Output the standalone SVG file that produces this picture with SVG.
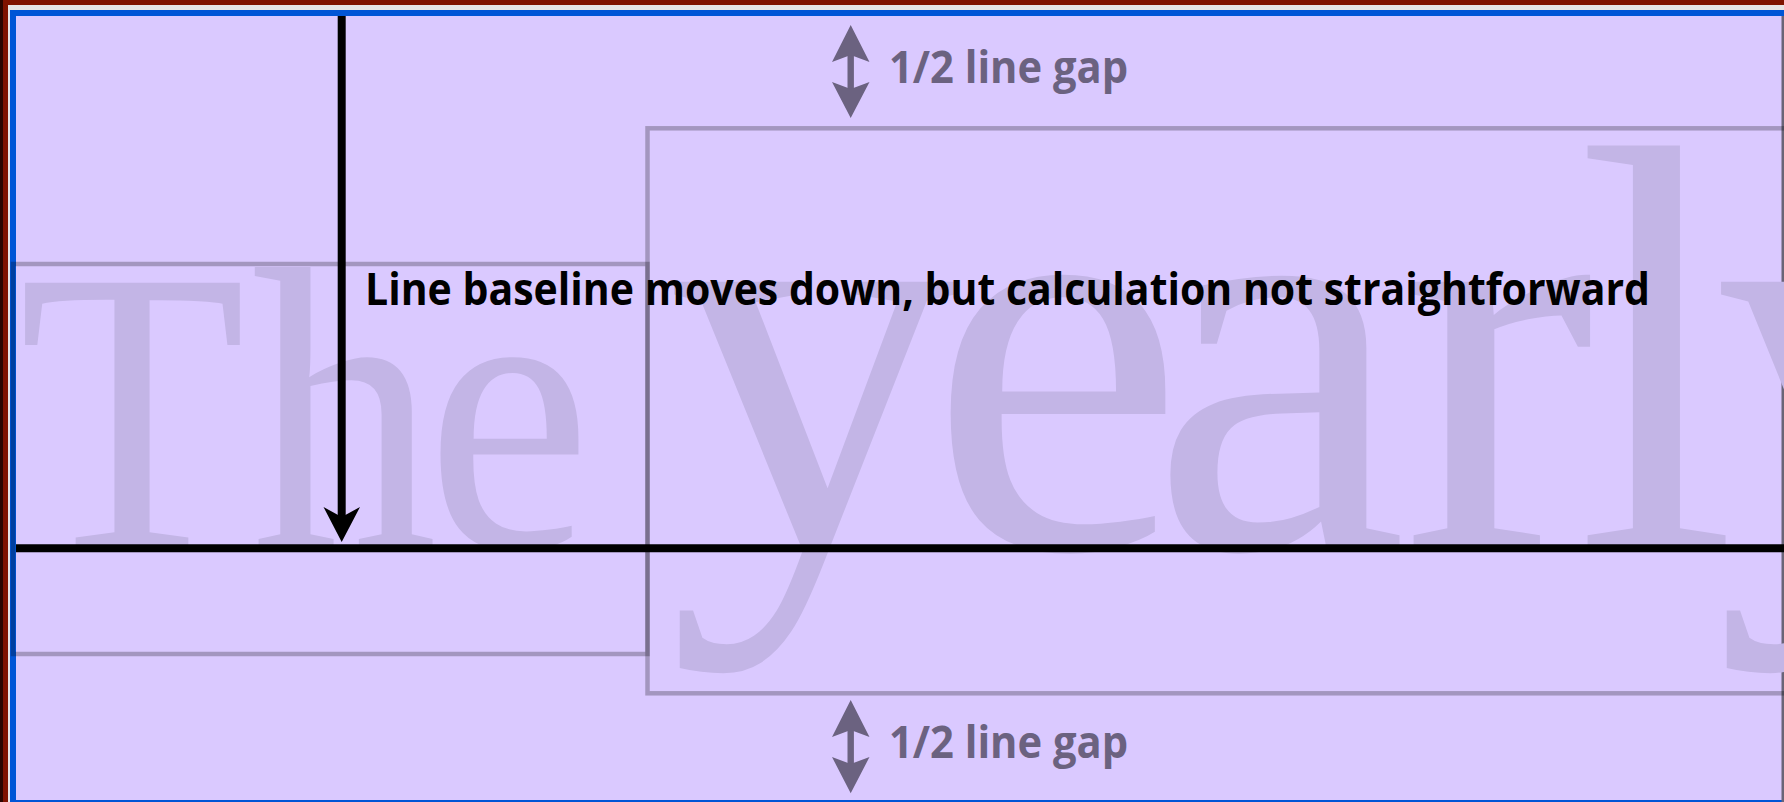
<svg xmlns="http://www.w3.org/2000/svg" width="1784" height="802" viewBox="0 0 1784 802">
  <style>
    .big { font-family: "Liberation Serif", "Times New Roman", serif; fill: #C3B5E6; }
    .box { fill: none; stroke: #000; stroke-opacity: 0.25; stroke-width: 4.5; }
    .gap { font-family: "Open Sans", "Liberation Sans", sans-serif; font-weight: 700; font-size: 44px; fill: #6B6280; }
    .note { font-family: "Open Sans", "Liberation Sans", sans-serif; font-weight: 700; font-size: 44px; fill: #000; }
    .garrow { fill: #6B6280; }
  </style>
  <!-- window frame -->
  <rect x="0" y="0" width="1784" height="802" fill="#7F1200"/>
  <rect x="0" y="0" width="3" height="802" fill="#2a0500"/>
  <rect x="8" y="5" width="1776" height="797" fill="#E6E4E6"/>
  <rect x="10" y="10" width="1774" height="792" fill="#0055D6"/>
  <rect x="16" y="16" width="1768" height="784" fill="#DAC9FF"/>
  <rect x="1781.5" y="16" width="2.5" height="786" fill="#6A6478"/>

  <g id="glyphs">
    <text class="big" transform="scale(0.92,1)" x="20 273 463" y="548" font-size="405">The</text>
    <text class="big" x="667 928 1150 1402 1576 1714" y="548" font-size="580">yearly</text>
  </g>

  <g id="connectors">
    <line id="baseline" x1="16" y1="548.3" x2="1784" y2="548.3" stroke="#000" stroke-width="8"/>
    <g id="down-arrow">
      <line x1="341.7" y1="16" x2="341.7" y2="518" stroke="#000" stroke-width="8"/>
      <polygon points="341.7,542 323.5,507 341.7,517 360,507" fill="#000"/>
    </g>
    <g id="gap-arrow-top">
      <rect x="847.5" y="50" width="6.4" height="45" class="garrow"/>
      <polygon points="850.7,25 832,62 850.7,55 869.5,62" class="garrow"/>
      <polygon points="850.7,118 832,82 850.7,89 869.5,82" class="garrow"/>
    </g>
    <g id="gap-arrow-bottom">
      <rect x="847.5" y="725" width="6.4" height="45" class="garrow"/>
      <polygon points="850.7,700 832,737 850.7,730 869.5,737" class="garrow"/>
      <polygon points="850.7,793.3 832,757 850.7,764 869.5,757" class="garrow"/>
    </g>
  </g>

  <g id="box-the">
    <rect class="box" x="13" y="264" width="634.5" height="390"/>
  </g>
  <g id="box-yearly">
    <rect class="box" x="647.5" y="128.3" width="1160" height="565"/>
  </g>

  <g id="label-top">
    <text class="gap" x="889" y="82.7" textLength="239" lengthAdjust="spacingAndGlyphs">1/2 line gap</text>
  </g>
  <g id="label-bottom">
    <text class="gap" x="889" y="758.3" textLength="239" lengthAdjust="spacingAndGlyphs">1/2 line gap</text>
  </g>
  <g id="label-note">
    <text class="note" x="365" y="305" textLength="1285" lengthAdjust="spacingAndGlyphs">Line baseline moves down, but calculation not straightforward</text>
  </g>
</svg>
